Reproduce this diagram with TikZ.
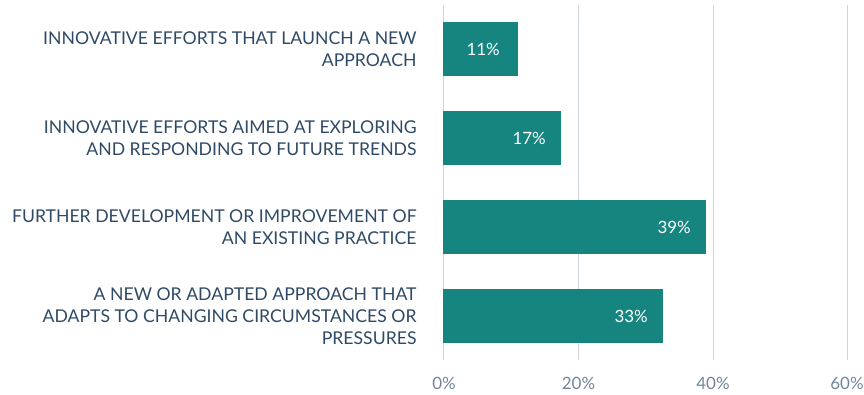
\documentclass[tikz,border=0pt]{standalone}
\usepackage{fontspec}
\setmainfont{Lato}
\definecolor{barc}{HTML}{16847F}
\definecolor{txt}{HTML}{2F4A66}
\definecolor{gridc}{HTML}{CDD5DD}
\definecolor{axc}{HTML}{72859A}
\begin{document}
\begin{tikzpicture}[x=1bp,y=-1bp,
  bar/.style={fill=barc,draw=none},
  grid/.style={draw=gridc,line width=1bp},
  cat/.style={anchor=east,align=right,text=txt,inner sep=0pt,font=\fontsize{17.7}{22}\selectfont},
  val/.style={anchor=east,text=white,inner sep=0pt,font=\fontsize{17}{20}\selectfont},
  tick/.style={anchor=center,text=axc,inner sep=0pt,font=\fontsize{17}{20}\selectfont}]
\useasboundingbox (0,0) rectangle (864,394);
% gridlines
\foreach \gx/\nm in {443.5/g0,578.5/g20,713.3/g40,847.5/g60}{
  \coordinate (\nm t) at (\gx,5);
  \coordinate (\nm b) at (\gx,360);
  \draw[grid] (\nm t) -- (\nm b);
}
% bars
\fill[bar] (443,22) rectangle (518,76);
\fill[bar] (443,111) rectangle (561,165);
\fill[bar] (443,200) rectangle (706,254);
\fill[bar] (443,289) rectangle (663,343);
% values
\node[val] (v1) at (500,49) {11\%};
\node[val] (v2) at (546,138) {17\%};
\node[val] (v3) at (691,227) {39\%};
\node[val] (v4) at (648,316) {33\%};
% categories
\node[cat] (c1) at (416.7,49) {INNOVATIVE EFFORTS THAT LAUNCH A NEW\\APPROACH};
\node[cat] (c2) at (416.7,138) {INNOVATIVE EFFORTS AIMED AT EXPLORING\\AND RESPONDING TO FUTURE TRENDS};
\node[cat] (c3) at (416.7,227) {FURTHER DEVELOPMENT OR IMPROVEMENT OF\\AN EXISTING PRACTICE};
\node[cat] (c4) at (416.7,316) {A NEW OR ADAPTED APPROACH THAT\\ADAPTS TO CHANGING CIRCUMSTANCES OR\\PRESSURES};
% ticks
\node[tick] (t0) at (444,383) {0\%};
\node[tick] (t20) at (578.5,383) {20\%};
\node[tick] (t40) at (713,383) {40\%};
\node[tick] (t60) at (847,383) {60\%};
\end{tikzpicture}
\end{document}
